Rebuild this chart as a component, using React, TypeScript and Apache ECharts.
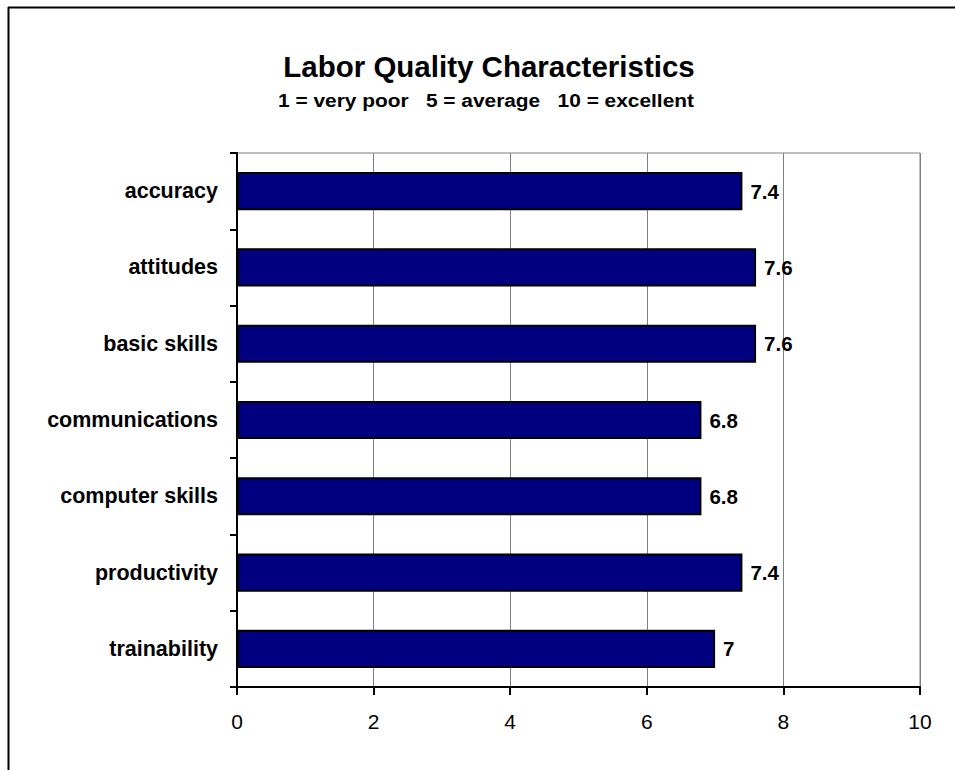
import React, { useEffect, useRef } from "react";
import * as echarts from "echarts";

const categories = [
  "accuracy",
  "attitudes",
  "basic skills",
  "communications",
  "computer skills",
  "productivity",
  "trainability",
];
const values = [7.4, 7.6, 7.6, 6.8, 6.8, 7.4, 7];
const xTicks = [0, 2, 4, 6, 8, 10];

const titleText = "Labor Quality Characteristics";
const subtitleText = "1 = very poor   5 = average   10 = excellent";

export default function App() {
  const ref = useRef<HTMLDivElement>(null);
  useEffect(() => {
    if (!ref.current) return;
    const chart = echarts.init(ref.current, null, { renderer: "svg" });
    const font = "Arial, 'Liberation Sans', sans-serif";
    chart.setOption({
      animation: false,
      backgroundColor: "#ffffff",
      graphic: [
        {
          type: "line",
          shape: { x1: 8, y1: 7.5, x2: 955, y2: 7.5 },
          style: { stroke: "#000", lineWidth: 2 },
        },
        {
          type: "line",
          shape: { x1: 8.5, y1: 7, x2: 8.5, y2: 770 },
          style: { stroke: "#000", lineWidth: 2 },
        },
        {
          type: "text",
          x: 489,
          y: 66,
          style: {
            text: titleText,
            fontFamily: font,
            fontWeight: "bold",
            fontSize: 29.5,
            fill: "#000",
            align: "center",
            verticalAlign: "middle",
          },
        },
        {
          type: "text",
          x: 486,
          y: 101,
          scaleX: 1.16,
          style: {
            text: subtitleText,
            fontFamily: font,
            fontWeight: "bold",
            fontSize: 18,
            fill: "#000",
            align: "center",
            verticalAlign: "middle",
          },
        },
      ],
      grid: {
        left: 237,
        right: 35,
        top: 153,
        bottom: 83,
        show: true,
        borderColor: "#808080",
        borderWidth: 1,
        containLabel: false,
      },
      xAxis: {
        type: "value",
        min: xTicks[0],
        max: xTicks[xTicks.length - 1],
        interval: 2,
        axisLine: { show: true, lineStyle: { color: "#000", width: 2 } },
        axisTick: { show: true, length: 8, lineStyle: { color: "#000", width: 2 } },
        axisLabel: {
          color: "#000",
          fontFamily: font,
          fontSize: 21,
          margin: 24,
        },
        splitLine: { show: true, lineStyle: { color: "#808080", width: 1 } },
      },
      yAxis: {
        type: "category",
        data: categories,
        inverse: true,
        axisLine: { show: true, lineStyle: { color: "#000", width: 2 } },
        axisTick: { show: true, length: 7, lineStyle: { color: "#000", width: 2 } },
        axisLabel: {
          color: "#000",
          fontFamily: font,
          fontSize: 21.5,
          fontWeight: "bold",
          margin: 19,
        },
        splitLine: { show: false },
      },
      series: [
        {
          type: "bar",
          data: values,
          barCategoryGap: "50%",
          itemStyle: { color: "#000080", borderColor: "#000", borderWidth: 2 },
          label: {
            show: true,
            position: "right",
            distance: 8,
            color: "#000",
            fontFamily: font,
            fontSize: 20.5,
            fontWeight: "bold",
          },
        },
      ],
    });
    return () => chart.dispose();
  }, []);
  return (
    <div
      ref={ref}
      style={{ position: "fixed", left: 0, top: 0, width: 955, height: 770 }}
    />
  );
}
